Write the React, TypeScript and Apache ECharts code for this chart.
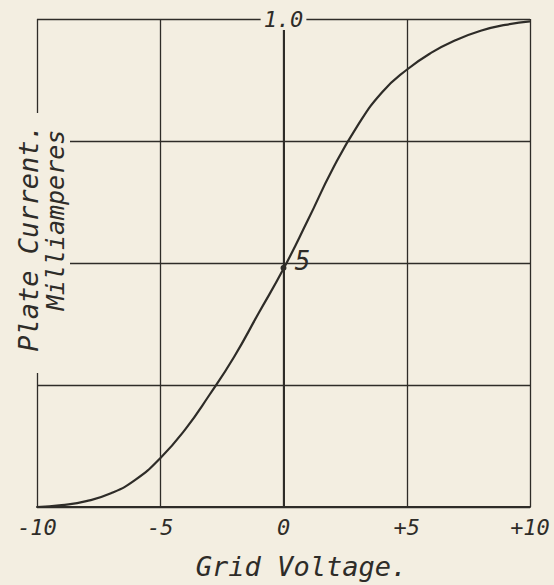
import React, { useEffect, useRef } from "react";
import * as echarts from "echarts";

const PAPER = "#f3eee1";
const INK = "#2e2c28";
const FONT = "'DejaVu Sans Mono', monospace";

const gridVoltage = [-10, -9, -8, -7, -6, -5, -4, -3, -2, -1, 0, 1, 2, 3, 4, 5, 6, 7, 8, 9, 10];
const plateCurrent = [0, 0.004, 0.012, 0.028, 0.056, 0.1, 0.158, 0.23, 0.308, 0.398, 0.488, 0.589, 0.693, 0.781, 0.85, 0.896, 0.931, 0.957, 0.976, 0.988, 0.995];

const xTickLabels = ["-10", "-5", "0", "+5", "+10"];
const xMin = -10;
const xMax = 10;
const xInterval = 5;
const yMin = 0;
const yMax = 1;
const yInterval = 0.25;

const yTopLabel = { coord: [0, 1], text: "1.0" };
const yMidLabel = { coord: [0, 0.5], text: "5" };
const dotPoint = [0, 0.49];

const xAxisName = "Grid Voltage.";
const yAxisName1 = "Plate Current.";
const yAxisName2 = "Milliamperes";

export default function App() {
  const ref = useRef<HTMLDivElement>(null);
  useEffect(() => {
    document.body.style.margin = "0";
    document.body.style.background = PAPER;
    const chart = echarts.init(ref.current!, null, { renderer: "svg" });
    const textStyle = { fontFamily: FONT, fontStyle: "italic" as const, fontWeight: "normal" as const, color: INK };
    chart.setOption({
      animation: false,
      backgroundColor: PAPER,
      grid: { left: 37, right: 24, top: 19, bottom: 75 },
      xAxis: {
        type: "value",
        min: xMin,
        max: xMax,
        interval: xInterval,
        axisLine: { onZero: false, lineStyle: { color: INK, width: 2 } },
        axisTick: { show: false },
        splitLine: { show: true, lineStyle: { color: INK, width: 1.3, type: "solid" } },
        axisLabel: {
          ...textStyle,
          fontSize: 22,
          margin: 9,
          formatter: (v: number) => xTickLabels[Math.round((v - xMin) / xInterval)] ?? "",
        },
        name: xAxisName,
        nameLocation: "middle",
        nameGap: 46,
        nameTextStyle: { ...textStyle, fontSize: 27, padding: [0, 0, 0, 36] },
      },
      yAxis: {
        type: "value",
        min: yMin,
        max: yMax,
        interval: yInterval,
        axisLine: {
          show: true,
          onZero: true,
          symbol: ["none", "arrow"],
          symbolSize: [6, 10],
          lineStyle: { color: INK, width: 2 },
        },
        axisTick: { show: false },
        axisLabel: { show: false },
        splitLine: { show: true, lineStyle: { color: INK, width: 1.3, type: "solid" } },
      },
      series: [
        {
          type: "line",
          data: gridVoltage.map((x, i) => [x, plateCurrent[i]]),
          smooth: 0.5,
          showSymbol: false,
          lineStyle: { color: INK, width: 2.2 },
          z: 5,
          markPoint: {
            silent: true,
            data: [
              {
                coord: yTopLabel.coord,
                symbol: "circle",
                symbolSize: 1,
                itemStyle: { color: INK },
                label: {
                  show: true,
                  formatter: yTopLabel.text,
                  position: "inside",
                  ...textStyle,
                  fontSize: 22,
                  backgroundColor: PAPER,
                  padding: [0, 3],
                },
              },
              {
                coord: yMidLabel.coord,
                symbol: "circle",
                symbolSize: 0,
                label: {
                  show: true,
                  formatter: yMidLabel.text,
                  position: "inside",
                  offset: [19, -2],
                  ...textStyle,
                  fontSize: 26,
                },
              },
              {
                coord: dotPoint,
                symbol: "circle",
                symbolSize: 6,
                itemStyle: { color: INK },
                label: { show: false },
              },
            ],
          },
        },
      ],
      graphic: [
        {
          type: "rect",
          z: 50,
          shape: { x: 8, y: 113, width: 62, height: 260 },
          style: { fill: PAPER },
        },
        {
          type: "text",
          z: 51,
          x: 28,
          y: 238,
          rotation: Math.PI / 2,
          style: {
            text: yAxisName1,
            align: "center",
            verticalAlign: "middle",
            font: `italic 27px ${FONT}`,
            fill: INK,
          },
        },
        {
          type: "text",
          z: 51,
          x: 55,
          y: 220,
          rotation: Math.PI / 2,
          style: {
            text: yAxisName2,
            align: "center",
            verticalAlign: "middle",
            font: `italic 25px ${FONT}`,
            fill: INK,
          },
        },
      ],
    });
    return () => chart.dispose();
  }, []);
  return <div ref={ref} style={{ width: 554, height: 585, background: PAPER }} />;
}
